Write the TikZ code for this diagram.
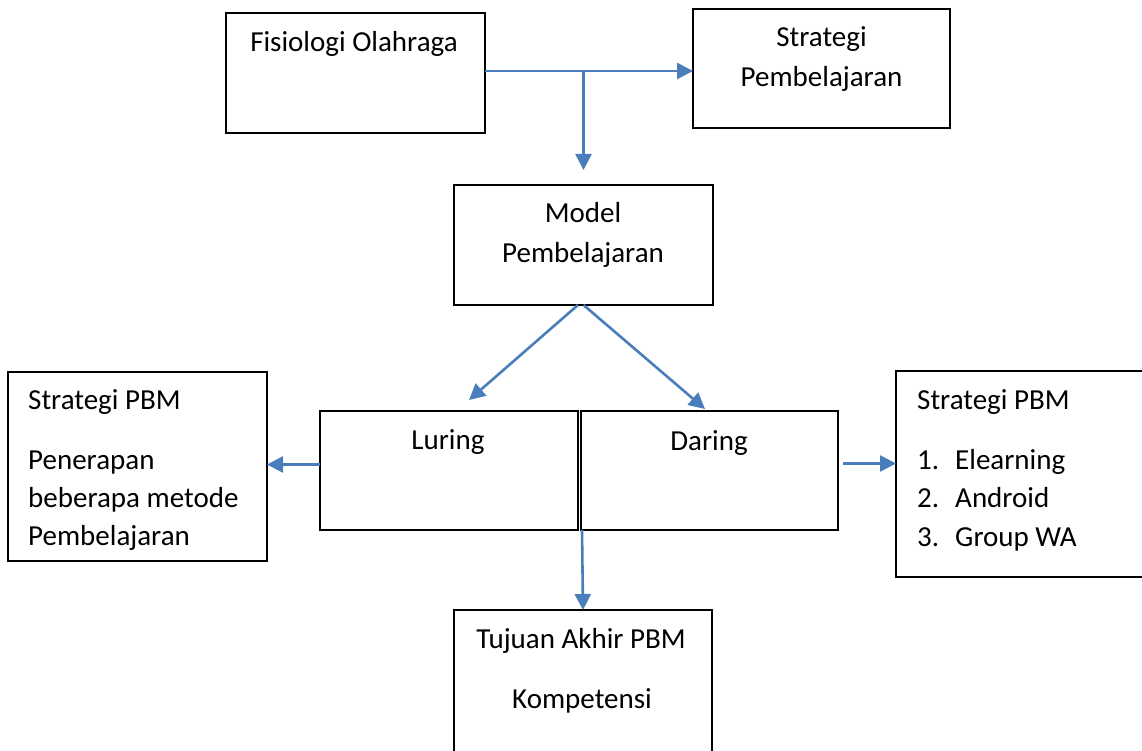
\documentclass[tikz,border=0pt]{standalone}
\usepackage{fontspec}
\setmainfont{Carlito}
\usetikzlibrary{arrows.meta}
\definecolor{arrowColor}{RGB}{74,126,187}

\begin{document}
\begin{tikzpicture}[x=1pt,y=-1pt]

          \tikzstyle{boxNode} = [draw=black, line width=1.3pt, inner sep=0pt, outer sep=0pt];
          \tikzstyle{textNode} = [black, inner sep=0pt, font=\fontsize{29}{38.6}\selectfont];
          \tikzstyle{arrowEdge} = [line width=2.6pt, arrowColor, -{Triangle[length=16pt,width=16pt]}];

          \useasboundingbox (0,0) rectangle (1142,751);

          % boxes
          \node[boxNode, minimum width=259pt, minimum height=120pt] (fis) at (355.5,73) {};
          \node[boxNode, minimum width=257pt, minimum height=119pt] (strat) at (821.5,68.5) {};
          \node[boxNode, minimum width=259pt, minimum height=120pt] (model) at (583.5,245) {};
          \node[boxNode, minimum width=259pt, minimum height=189pt] (pbmL) at (137.5,466.5) {};
          \node[boxNode, minimum width=258pt, minimum height=119pt] (luring) at (449,470.5) {};
          \node[boxNode, minimum width=257pt, minimum height=119pt] (daring) at (709.5,470.5) {};
          \node[boxNode, minimum width=264pt, minimum height=206pt] (pbmR) at (1028,474) {};
          \node[boxNode, minimum width=258pt, minimum height=170pt] (tujuan) at (583,695) {};

          % texts
          \node[textNode, anchor=base] (fisText) at (354,52) {Fisiologi Olahraga};
          \node[textNode, anchor=base] (stratTextA) at (821.5,47) {Strategi};
          \node[textNode, anchor=base] (stratTextB) at (821.5,87) {Pembelajaran};
          \node[textNode, anchor=base] (modelTextA) at (583,223) {Model};
          \node[textNode, anchor=base] (modelTextB) at (583,262) {Pembelajaran};
          \node[textNode, anchor=base] (luringText) at (448,449) {Luring};
          \node[textNode, anchor=base] (daringText) at (709,450) {Daring};
          \node[textNode, anchor=base west] (pbmLTextA) at (28,409) {Strategi PBM};
          \node[textNode, anchor=base west] (pbmLTextB) at (28,469) {Penerapan};
          \node[textNode, anchor=base west] (pbmLTextC) at (28,507) {beberapa metode};
          \node[textNode, anchor=base west] (pbmLTextD) at (28,545) {Pembelajaran};
          \node[textNode, anchor=base west] (pbmRText) at (917,409) {Strategi PBM};
          \node[textNode, anchor=base west] (numA) at (917,469) {1.};
          \node[textNode, anchor=base west] (itemA) at (955,469) {Elearning};
          \node[textNode, anchor=base west] (numB) at (917,507) {2.};
          \node[textNode, anchor=base west] (itemB) at (955,507) {Android};
          \node[textNode, anchor=base west] (numC) at (917,546) {3.};
          \node[textNode, anchor=base west] (itemC) at (955,546) {Group WA};
          \node[textNode, anchor=base] (tujuanTextA) at (581,648) {Tujuan Akhir PBM};
          \node[textNode, anchor=base] (tujuanTextB) at (582,708) {Kompetensi};

          % connectors
          \coordinate (split) at ([yshift=2pt]fis.east -| model.north);
          \draw[arrowEdge] ([yshift=2pt]fis.east) -- (split) -- ([yshift=2pt]fis.east -| strat.west);
          \draw[arrowEdge] (split) -- ([yshift=15pt]model.north);
          \draw[arrowEdge] ([xshift=-5.5pt]model.south) -- ([xshift=20pt,yshift=11pt]luring.north);
          \draw[arrowEdge] (model.south) -- ([xshift=-4.5pt,yshift=2pt]daring.north);
          \draw[arrowEdge] ([yshift=6pt]luring.west) -- ([yshift=6pt]luring.west -| pbmL.east);
          \draw[arrowEdge] ([xshift=5pt,yshift=7pt]daring.east) -- ([yshift=7pt]daring.east -| pbmR.west);
          \draw[arrowEdge] ([xshift=1pt]daring.south west) -- (tujuan.north);
        \end{tikzpicture}
\end{document}
